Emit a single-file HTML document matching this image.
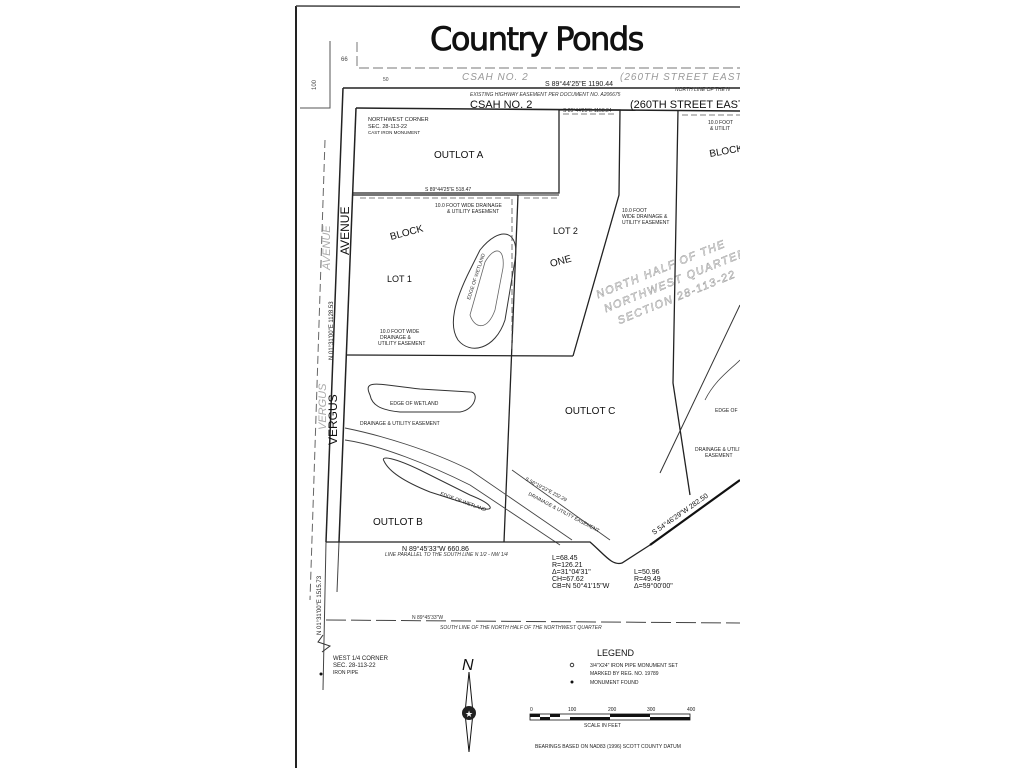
<!DOCTYPE html>
<html><head><meta charset="utf-8"><style>
html,body{margin:0;padding:0;background:#fff;}
svg{display:block;font-family:"Liberation Sans",sans-serif;}
</style></head><body>
<svg width="1024" height="768" viewBox="0 0 1024 768" xmlns="http://www.w3.org/2000/svg">
<defs><clipPath id="c"><rect x="0" y="0" width="740" height="768"/></clipPath></defs>
<rect width="1024" height="768" fill="#fff"/>
<g clip-path="url(#c)">
<line x1="296" y1="6" x2="296" y2="768" stroke="#222" stroke-width="2"/>
<line x1="296" y1="6" x2="740" y2="7" stroke="#444" stroke-width="1.5"/>
<text x="430" y="50" font-size="32" fill="#111" stroke="#111" stroke-width="0.8" font-family="'DejaVu Sans',sans-serif" letter-spacing="-1.5">Country Ponds</text>
<path d="M300 108 H330 V41" fill="none" stroke="#555" stroke-width="1"/>
<path d="M357 42 V68 H740" fill="none" stroke="#777" stroke-width="1" stroke-dasharray="10 4"/>
<text x="341" y="61" font-size="6" fill="#444">66</text>
<text x="316" y="90" font-size="6" fill="#444" transform="rotate(-90 316 90)">100</text>
<text x="383" y="81" font-size="5" fill="#444">50</text>
<text x="462" y="80" font-size="10" fill="#999" font-style="italic" letter-spacing="1">CSAH NO. 2</text>
<text x="620" y="80" font-size="10" fill="#999" font-style="italic" letter-spacing="1">(260TH STREET EAST)</text>
<line x1="343" y1="88" x2="740" y2="88" stroke="#222" stroke-width="1.5"/>
<line x1="356" y1="108" x2="740" y2="111" stroke="#222" stroke-width="1.5"/>
<text x="545" y="86" font-size="7" fill="#222">S 89°44'25"E 1190.44</text>
<text x="470" y="96" font-size="5" fill="#333" font-style="italic">EXISTING HIGHWAY EASEMENT PER DOCUMENT NO. A206675</text>
<text x="675" y="91" font-size="5" fill="#333" font-style="italic">NORTH LINE OF THE N</text>
<text x="470" y="108" font-size="11" fill="#111">CSAH NO. 2</text>
<text x="630" y="108" font-size="11" fill="#111">(260TH STREET EAST</text>
<text x="563" y="112" font-size="5" fill="#333">S 89°44'25"E 1158.24</text>
<line x1="343" y1="88" x2="326" y2="542" stroke="#222" stroke-width="1.5"/>
<line x1="326" y1="542" x2="323" y2="690" stroke="#444" stroke-width="1"/>
<line x1="356" y1="108" x2="339" y2="542" stroke="#222" stroke-width="1.5"/>
<line x1="339" y1="542" x2="337" y2="592" stroke="#444" stroke-width="1"/>
<line x1="325" y1="140" x2="310" y2="600" stroke="#666" stroke-width="1" stroke-dasharray="8 4"/>
<text x="349" y="255" font-size="12" fill="#111" transform="rotate(-90 349 255)">AVENUE</text>
<text x="337" y="445" font-size="12" fill="#111" transform="rotate(-90 337 445)">VERGUS</text>
<text x="330" y="270" font-size="11" fill="#aaa" font-style="italic" transform="rotate(-90 330 270)">AVENUE</text>
<text x="326" y="430" font-size="11" fill="#aaa" font-style="italic" transform="rotate(-90 326 430)">VERGUS</text>
<text x="333" y="360" font-size="6" fill="#222" transform="rotate(-90 333 360)">N 01°31'00"E 1128.53</text>
<text x="321" y="635" font-size="6" fill="#222" transform="rotate(-90 321 635)">N 01°31'00"E 1515.73</text>
<path d="M353 193 H559 V110" fill="none" stroke="#222" stroke-width="1.3"/>
<text x="434" y="158" font-size="10" fill="#111">OUTLOT A</text>
<text x="368" y="121" font-size="5.5" fill="#222">NORTHWEST CORNER</text>
<text x="368" y="128" font-size="5.5" fill="#222">SEC. 28-113-22</text>
<text x="368" y="134" font-size="4.5" fill="#222">CAST IRON MONUMENT</text>
<text x="425" y="191" font-size="5" fill="#222">S 89°44'25"E 518.47</text>
<line x1="352" y1="195" x2="518" y2="195" stroke="#222" stroke-width="1.3"/>
<line x1="518" y1="195" x2="504" y2="542" stroke="#222" stroke-width="1.3"/>
<path d="M559 110 H620 L619 195 L573 356" fill="none" stroke="#222" stroke-width="1.3"/>
<path d="M518 195 H559" fill="none" stroke="#222" stroke-width="1"/>
<line x1="346" y1="355" x2="573" y2="356" stroke="#222" stroke-width="1.3"/>
<path d="M360 198 H512 V350" fill="none" stroke="#555" stroke-width="0.8" stroke-dasharray="6 3"/>
<path d="M563 114 H616 M524 198 H560" fill="none" stroke="#555" stroke-width="0.8" stroke-dasharray="6 3"/>
<text x="391" y="240" font-size="10" fill="#111" transform="rotate(-15 391 240)">BLOCK</text>
<text x="387" y="282" font-size="9" fill="#111">LOT 1</text>
<text x="553" y="234" font-size="9" fill="#111">LOT 2</text>
<text x="551" y="267" font-size="10" fill="#111" transform="rotate(-15 551 267)">ONE</text>
<text x="435" y="207" font-size="5" fill="#222">10.0 FOOT WIDE DRAINAGE</text>
<text x="447" y="213" font-size="5" fill="#222">&amp; UTILITY EASEMENT</text>
<text x="380" y="333" font-size="5" fill="#222">10.0 FOOT WIDE</text>
<text x="380" y="339" font-size="5" fill="#222">DRAINAGE &amp;</text>
<text x="378" y="345" font-size="5" fill="#222">UTILITY EASEMENT</text>
<text x="622" y="212" font-size="5" fill="#222">10.0 FOOT</text>
<text x="622" y="218" font-size="5" fill="#222">WIDE DRAINAGE &amp;</text>
<text x="622" y="224" font-size="5" fill="#222">UTILITY EASEMENT</text>
<path d="M480 250 C500 225 520 230 515 260 L505 320 C495 350 470 355 458 340 C448 325 455 300 470 270 Z" fill="none" stroke="#333" stroke-width="1"/>
<path d="M485 262 C495 245 505 248 503 268 L495 310 C488 330 475 330 470 315 Z" fill="none" stroke="#666" stroke-width="0.8"/>
<text x="470" y="300" font-size="5" fill="#333" transform="rotate(-72 470 300)">EDGE OF WETLAND</text>
<g fill="none" stroke="#999" stroke-width="0.5" font-size="11" font-style="italic" transform="rotate(-22 640 290)">
<text x="598" y="282" letter-spacing="1.5">NORTH   HALF   OF   THE</text>
<text x="600" y="298" letter-spacing="1.5">NORTHWEST   QUARTER</text>
<text x="608" y="314" letter-spacing="1.5">SECTION   28-113-22</text>
</g>
<path d="M678 110 L673 383 L690 495" fill="none" stroke="#222" stroke-width="1.3"/>
<path d="M682 115 H740" fill="none" stroke="#555" stroke-width="0.8" stroke-dasharray="6 3"/>
<text x="710" y="157" font-size="10" fill="#111" transform="rotate(-10 710 157)">BLOCK</text>
<text x="708" y="124" font-size="5" fill="#222">10.0 FOOT</text>
<text x="710" y="130" font-size="5" fill="#222">&amp; UTILIT</text>
<line x1="660" y1="473" x2="740" y2="305" stroke="#333" stroke-width="1"/>
<path d="M705 400 C715 380 730 370 740 360" fill="none" stroke="#444" stroke-width="0.8"/>
<text x="715" y="412" font-size="5" fill="#222">EDGE OF</text>
<text x="695" y="451" font-size="5" fill="#222">DRAINAGE &amp; UTILITY</text>
<text x="705" y="457" font-size="5" fill="#222">EASEMENT</text>
<text x="565" y="414" font-size="10" fill="#111">OUTLOT C</text>
<path d="M370 395 C362 378 380 385 420 389 L470 392 C480 392 475 410 460 412 L400 412 C380 410 372 405 370 395 Z" fill="none" stroke="#333" stroke-width="1"/>
<text x="390" y="405" font-size="5" fill="#222">EDGE OF WETLAND</text>
<path d="M384 461 C380 455 395 458 420 470 L470 495 C495 505 495 512 480 508 L430 492 C400 480 388 470 384 461 Z" fill="none" stroke="#333" stroke-width="1"/>
<text x="440" y="495" font-size="5" fill="#222" transform="rotate(20 440 495)">EDGE OF WETLAND</text>
<path d="M345 428 C380 435 430 450 470 470 L572 540" fill="none" stroke="#444" stroke-width="0.9"/>
<path d="M345 440 C380 445 430 465 470 485 L560 545" fill="none" stroke="#444" stroke-width="0.9"/>
<path d="M512 470 L610 540" fill="none" stroke="#444" stroke-width="0.9"/>
<text x="360" y="425" font-size="5" fill="#222">DRAINAGE &amp; UTILITY EASEMENT</text>
<text x="525" y="480" font-size="5" fill="#222" transform="rotate(28 525 480)">S 56°19'23"E 232.29</text>
<text x="528" y="495" font-size="5" fill="#222" transform="rotate(28 528 495)">DRAINAGE &amp; UTILITY EASEMENT</text>
<text x="373" y="525" font-size="10" fill="#111">OUTLOT B</text>
<line x1="326" y1="542" x2="572" y2="542" stroke="#222" stroke-width="1.3"/>
<path d="M572 542 L590 542 C605 555 612 566 622 563 L650 545" fill="none" stroke="#222" stroke-width="1.3"/>
<line x1="650" y1="545" x2="740" y2="480" stroke="#111" stroke-width="2.2"/>
<text x="402" y="551" font-size="7" fill="#111">N 89°45'33"W 660.86</text>
<text x="385" y="556" font-size="5" fill="#333" font-style="italic">LINE PARALLEL TO THE SOUTH LINE N 1/2 - NW 1/4</text>
<text x="654" y="535" font-size="7" fill="#111" transform="rotate(-35 654 535)">S 54°46'29"W 282.50</text>
<g font-size="7" fill="#111">
<text x="552" y="560">L=68.45</text><text x="552" y="567">R=126.21</text>
<text x="552" y="574">Δ=31°04'31"</text><text x="552" y="581">CH=67.62</text>
<text x="552" y="588">CB=N 50°41'15"W</text>
<text x="634" y="574">L=50.96</text><text x="634" y="581">R=49.49</text>
<text x="634" y="588">Δ=59°00'00"</text>
</g>
<line x1="326" y1="620" x2="740" y2="623" stroke="#444" stroke-width="1" stroke-dasharray="20 5"/>
<text x="412" y="619" font-size="5" fill="#333">N 89°45'33"W</text>
<text x="440" y="629" font-size="5" fill="#333" font-style="italic">SOUTH LINE OF THE NORTH HALF OF THE NORTHWEST QUARTER</text>
<path d="M323 635 L318 642 L330 646 L322 652" fill="none" stroke="#333" stroke-width="1"/>
<circle cx="321" cy="674" r="1.5" fill="#111"/>
<text x="333" y="660" font-size="6" fill="#222">WEST 1/4 CORNER</text>
<text x="333" y="667" font-size="6" fill="#222">SEC. 28-113-22</text>
<text x="333" y="674" font-size="5" fill="#222">IRON PIPE</text>
<text x="462" y="670" font-size="16" fill="#111" font-style="italic">N</text>
<path d="M469 672 L473 713 L469 752 L465 713 Z" fill="none" stroke="#111" stroke-width="1"/>
<circle cx="469" cy="713" r="7" fill="#222"/>
<text x="465" y="717" font-size="9" fill="#fff">★</text>
<text x="597" y="656" font-size="9" fill="#111">LEGEND</text>
<circle cx="572" cy="665" r="1.8" fill="none" stroke="#111" stroke-width="0.8"/>
<text x="590" y="667" font-size="5" fill="#222">3/4"X24" IRON PIPE MONUMENT SET</text>
<text x="590" y="675" font-size="5" fill="#222">MARKED BY REG. NO. 19789</text>
<circle cx="572" cy="682" r="1.5" fill="#111"/>
<text x="590" y="684" font-size="5" fill="#222">MONUMENT FOUND</text>
<g font-size="5" fill="#222"><text x="530" y="711">0</text><text x="568" y="711">100</text><text x="608" y="711">200</text><text x="647" y="711">300</text><text x="687" y="711">400</text></g>
<rect x="530" y="714" width="160" height="6" fill="#fff" stroke="#111" stroke-width="0.8"/>
<rect x="530" y="714" width="10" height="3" fill="#111"/><rect x="540" y="717" width="10" height="3" fill="#111"/>
<rect x="550" y="714" width="10" height="3" fill="#111"/><rect x="570" y="717" width="40" height="3" fill="#111"/>
<rect x="610" y="714" width="40" height="3" fill="#111"/><rect x="650" y="717" width="40" height="3" fill="#111"/>
<text x="584" y="727" font-size="5" fill="#222">SCALE    IN    FEET</text>
<text x="535" y="748" font-size="5" fill="#222">BEARINGS BASED ON NAD83 (1996) SCOTT COUNTY DATUM</text>
</g>
</svg>
</body></html>
